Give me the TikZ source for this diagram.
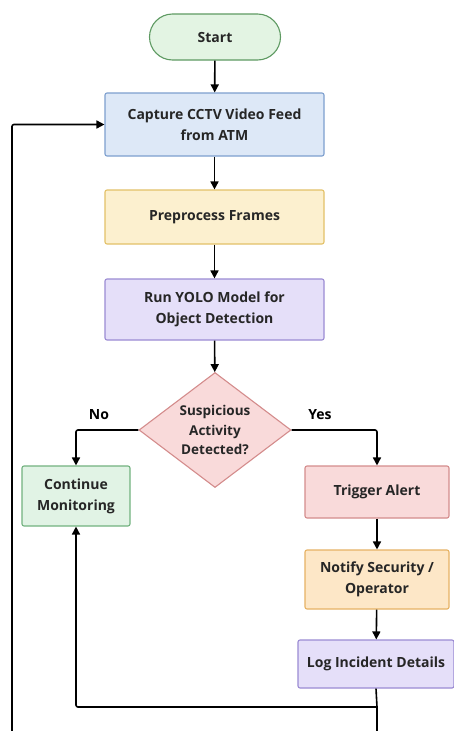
\documentclass[tikz,border=0pt]{standalone}
\usepackage{fontspec}
\setmainfont{Open Sans}
\usetikzlibrary{shapes.geometric,arrows.meta}

\definecolor{startfill}{HTML}{E3F4E3}
\definecolor{startline}{HTML}{5E9A62}
\definecolor{capfill}{HTML}{DDE8F7}
\definecolor{capline}{HTML}{7D9FCF}
\definecolor{prefill}{HTML}{FCF0CF}
\definecolor{preline}{HTML}{E3C168}
\definecolor{yolofill}{HTML}{E5DFF9}
\definecolor{yololine}{HTML}{9B8BD3}
\definecolor{decfill}{HTML}{F9DADA}
\definecolor{decline}{HTML}{D48C8C}
\definecolor{contfill}{HTML}{E1F3E5}
\definecolor{contline}{HTML}{72B27F}
\definecolor{notfill}{HTML}{FDE7C7}
\definecolor{notline}{HTML}{E6B264}

\begin{document}
\begin{tikzpicture}[x=1pt, y=-1pt,
    font=\bfseries\fontsize{14}{21}\selectfont,
    box/.style={draw, rounded corners=2pt, line width=1.1pt, align=center,
      text=black!85, inner sep=0pt},
    decbox/.style={diamond, draw=decline, fill=decfill, line width=1.1pt,
      align=center, text=black!85, inner sep=0pt, aspect=1.32,
      minimum width=152pt, minimum height=115pt,
      font=\bfseries\fontsize{13.5}{19.5}\selectfont},
    line/.style={line width=1.6pt, rounded corners=2pt},
    arr/.style={line, -{Triangle[length=8pt,width=8pt]}}]

  \useasboundingbox (0,0) rectangle (454,731);
  \clip (0,0) rectangle (454,731);
  \fill[white] (0,0) rectangle (454,731);

  % main column
  \node[box, fill=startfill, draw=startline, rounded corners=23pt,
    minimum width=131pt, minimum height=46pt] (start) at (215,37) {Start};
  \node[box, fill=capfill, draw=capline, minimum width=219pt,
    minimum height=63pt] (capture) at (214.5,124.5)
    {Capture CCTV Video Feed\\from ATM};
  \node[box, fill=prefill, draw=preline, minimum width=219pt,
    minimum height=54pt] (pre) at (214.5,217) {Preprocess Frames};
  \node[box, fill=yolofill, draw=yololine, minimum width=219pt,
    minimum height=61pt] (yolo) at (214.5,309.5)
    {Run YOLO Model for\\Object Detection};
  \node[decbox] (decide) at (215,430) {Suspicious\\Activity\\Detected?};

  % branches
  \node[box, fill=contfill, draw=contline, minimum width=108pt,
    minimum height=60pt] (cont) at (76,496) {Continue\\Monitoring};
  \node[box, fill=decfill, draw=decline, minimum width=144pt,
    minimum height=52pt] (alert) at (377,492) {Trigger Alert};
  \node[box, fill=notfill, draw=notline, minimum width=144pt,
    minimum height=59pt] (notify) at (377,579.5)
    {Notify Security /\\Operator};
  \node[box, fill=yolofill, draw=yololine, minimum width=156pt,
    minimum height=48pt] (log) at (376,664) {Log Incident Details};

  \node (no) at (99,415) {No};
  \node (yes) at (320,415) {Yes};

  \coordinate (low) at (377,707);
  \coordinate (out) at (377,745);
  \coordinate (rail) at (12,745);

  \draw[arr] (start) -- (capture);
  \draw[arr] (capture) -- (pre);
  \draw[arr] (pre) -- (yolo);
  \draw[arr] (yolo) -- (decide);
  \draw[arr] (decide.west) -| (cont.north);
  \draw[arr] (decide.east) -| (alert.north);
  \draw[arr] (alert) -- (notify);
  \draw[arr] (notify) -- (log);

  % loops back
  \draw[line] (log.south) -- (low);
  \draw[arr] (low) -| (cont.south);
  \draw[arr] (low) -- (out) -| (rail) |- (capture.west);
\end{tikzpicture}
\end{document}
